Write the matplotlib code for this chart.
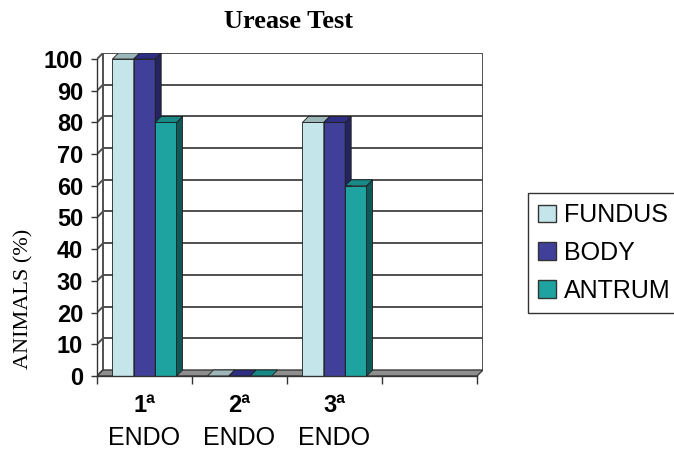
import matplotlib
matplotlib.use("Agg")
import matplotlib.pyplot as plt
from matplotlib.patches import Polygon, Patch

# ---- data ----
categories = ["1ª", "2ª", "3ª", ""]
sub_label = "ENDO"
series_names = ["FUNDUS", "BODY", "ANTRUM"]
fundus = [100, 0, 80, None]
body = [100, 0, 80, None]
antrum = [80, 0, 60, None]
y_ticks = [0, 10, 20, 30, 40, 50, 60, 70, 80, 90, 100]
title = "Urease Test"
ylabel = "ANIMALS (%)"

series = [fundus, body, antrum]
front_cols = ["#C4E6EA", "#40409B", "#1FA3A0"]
top_cols = ["#9DB6B8", "#2E2E82", "#178A88"]
side_cols = ["#7F9EA1", "#24245F", "#0E5957"]

W, H = 674, 450
fig = plt.figure(figsize=(W / 100, H / 100), dpi=100)
ax = fig.add_axes([97 / W, (H - 376) / H, (483 - 97) / W, (376 - 53) / H])

ncat = len(categories)
px_x = (477 - 97) / ncat          # pixels per category
px_y = (376 - 59) / 100.0         # pixels per percent
DX = 6 / px_x
DY = 6 / px_y
ymax = y_ticks[-1]

ax.set_xlim(0, ncat + DX)
ax.set_ylim(0, ymax + DY)
ax.set_facecolor("none")

gcol = "#505050"
glw = 1.4
# back wall gridlines and left wall diagonals
for t in y_ticks:
    if t > 0:
        ax.plot([DX, ncat + DX], [t + DY, t + DY], color=gcol, lw=glw, zorder=1,
                solid_capstyle="butt")
    ax.plot([0, DX], [t, t + DY], color=gcol, lw=glw, zorder=1)
ax.plot([DX, DX], [DY, ymax + DY], color=gcol, lw=glw, zorder=1)
ax.plot([ncat + DX, ncat + DX], [DY, ymax + DY], color=gcol, lw=glw, zorder=1)

# floor
floor = Polygon([(0, 0), (ncat, 0), (ncat + DX, DY), (DX, DY)], closed=True,
                facecolor="#8E8E8E", edgecolor="#3A3A3A", lw=1.0, zorder=2)
ax.add_patch(floor)

bw = 0.225
ecol = "#1E1E1E"
elw = 0.6
for j in range(ncat):
    for i, s in enumerate(series):
        v = s[j]
        if v is None:
            continue
        x0 = j + 0.5 + (i - 1) * bw - bw / 2
        z = 3 + j * 10 + i * 2
        if v > 0:
            ax.bar(x0, v, width=bw, align="edge", color=front_cols[i],
                   edgecolor=ecol, linewidth=elw, zorder=z)
            side = Polygon([(x0 + bw, 0), (x0 + bw + DX, DY), (x0 + bw + DX, v + DY),
                            (x0 + bw, v)], closed=True, facecolor=side_cols[i],
                           edgecolor=ecol, lw=elw, zorder=z)
            ax.add_patch(side)
        top = Polygon([(x0, v), (x0 + bw, v), (x0 + bw + DX, v + DY), (x0 + DX, v + DY)],
                      closed=True, facecolor=top_cols[i], edgecolor=ecol,
                      lw=elw, zorder=z + 1)
        ax.add_patch(top)

# spines and ticks
for k in ["top", "right"]:
    ax.spines[k].set_visible(False)
ax.spines["left"].set_bounds(0, ymax)
ax.spines["bottom"].set_bounds(0, ncat)
for k in ["left", "bottom"]:
    ax.spines[k].set_color("#333333")
    ax.spines[k].set_linewidth(1.0)
    ax.spines[k].set_zorder(50)

ax.set_yticks(y_ticks)
ax.set_yticklabels([str(t) for t in y_ticks], fontsize=17, fontweight="bold",
                   family="Liberation Sans")
ax.tick_params(axis="y", length=4, width=1, color="#333333", pad=6)
ax.set_xticks(range(ncat + 1))
ax.set_xticklabels([])
ax.tick_params(axis="x", length=6, width=1, color="#333333")

tr = ax.get_xaxis_transform()
for j, c in enumerate(categories):
    if not c:
        continue
    ax.annotate(c, xy=(j + 0.5, 0), xycoords=tr, xytext=(0, -29 * 0.72),
                textcoords="offset points", ha="center", va="center",
                fontsize=17, fontweight="bold", family="Liberation Sans")
    ax.annotate(sub_label, xy=(j + 0.5, 0), xycoords=tr, xytext=(0, -62 * 0.72),
                textcoords="offset points", ha="center", va="center",
                fontsize=18, family="Liberation Sans")

fig.text(288 / W, 1 - 22 / H, title, ha="center", va="center", fontsize=19,
         fontweight="bold", family="Liberation Serif")
fig.text(23.5 / W, 1 - 298.5 / H, ylabel, ha="center", va="center", rotation=90,
         fontsize=16, family="Liberation Serif")

handles = [Patch(facecolor=front_cols[i], edgecolor="#333333", lw=1.0)
           for i in range(len(series_names))]
leg = fig.legend(handles, series_names, loc="upper left",
                 bbox_to_anchor=(528 / W, 1 - 193 / H), frameon=True,
                 fancybox=False, edgecolor="black",
                 handlelength=0.7, handleheight=0.7, handletextpad=0.35,
                 labelspacing=0.55, borderpad=0.4, borderaxespad=0,
                 prop={"family": "Liberation Sans", "size": 18})
leg.get_frame().set_linewidth(1.0)

fig.savefig("out.png", dpi=100)
